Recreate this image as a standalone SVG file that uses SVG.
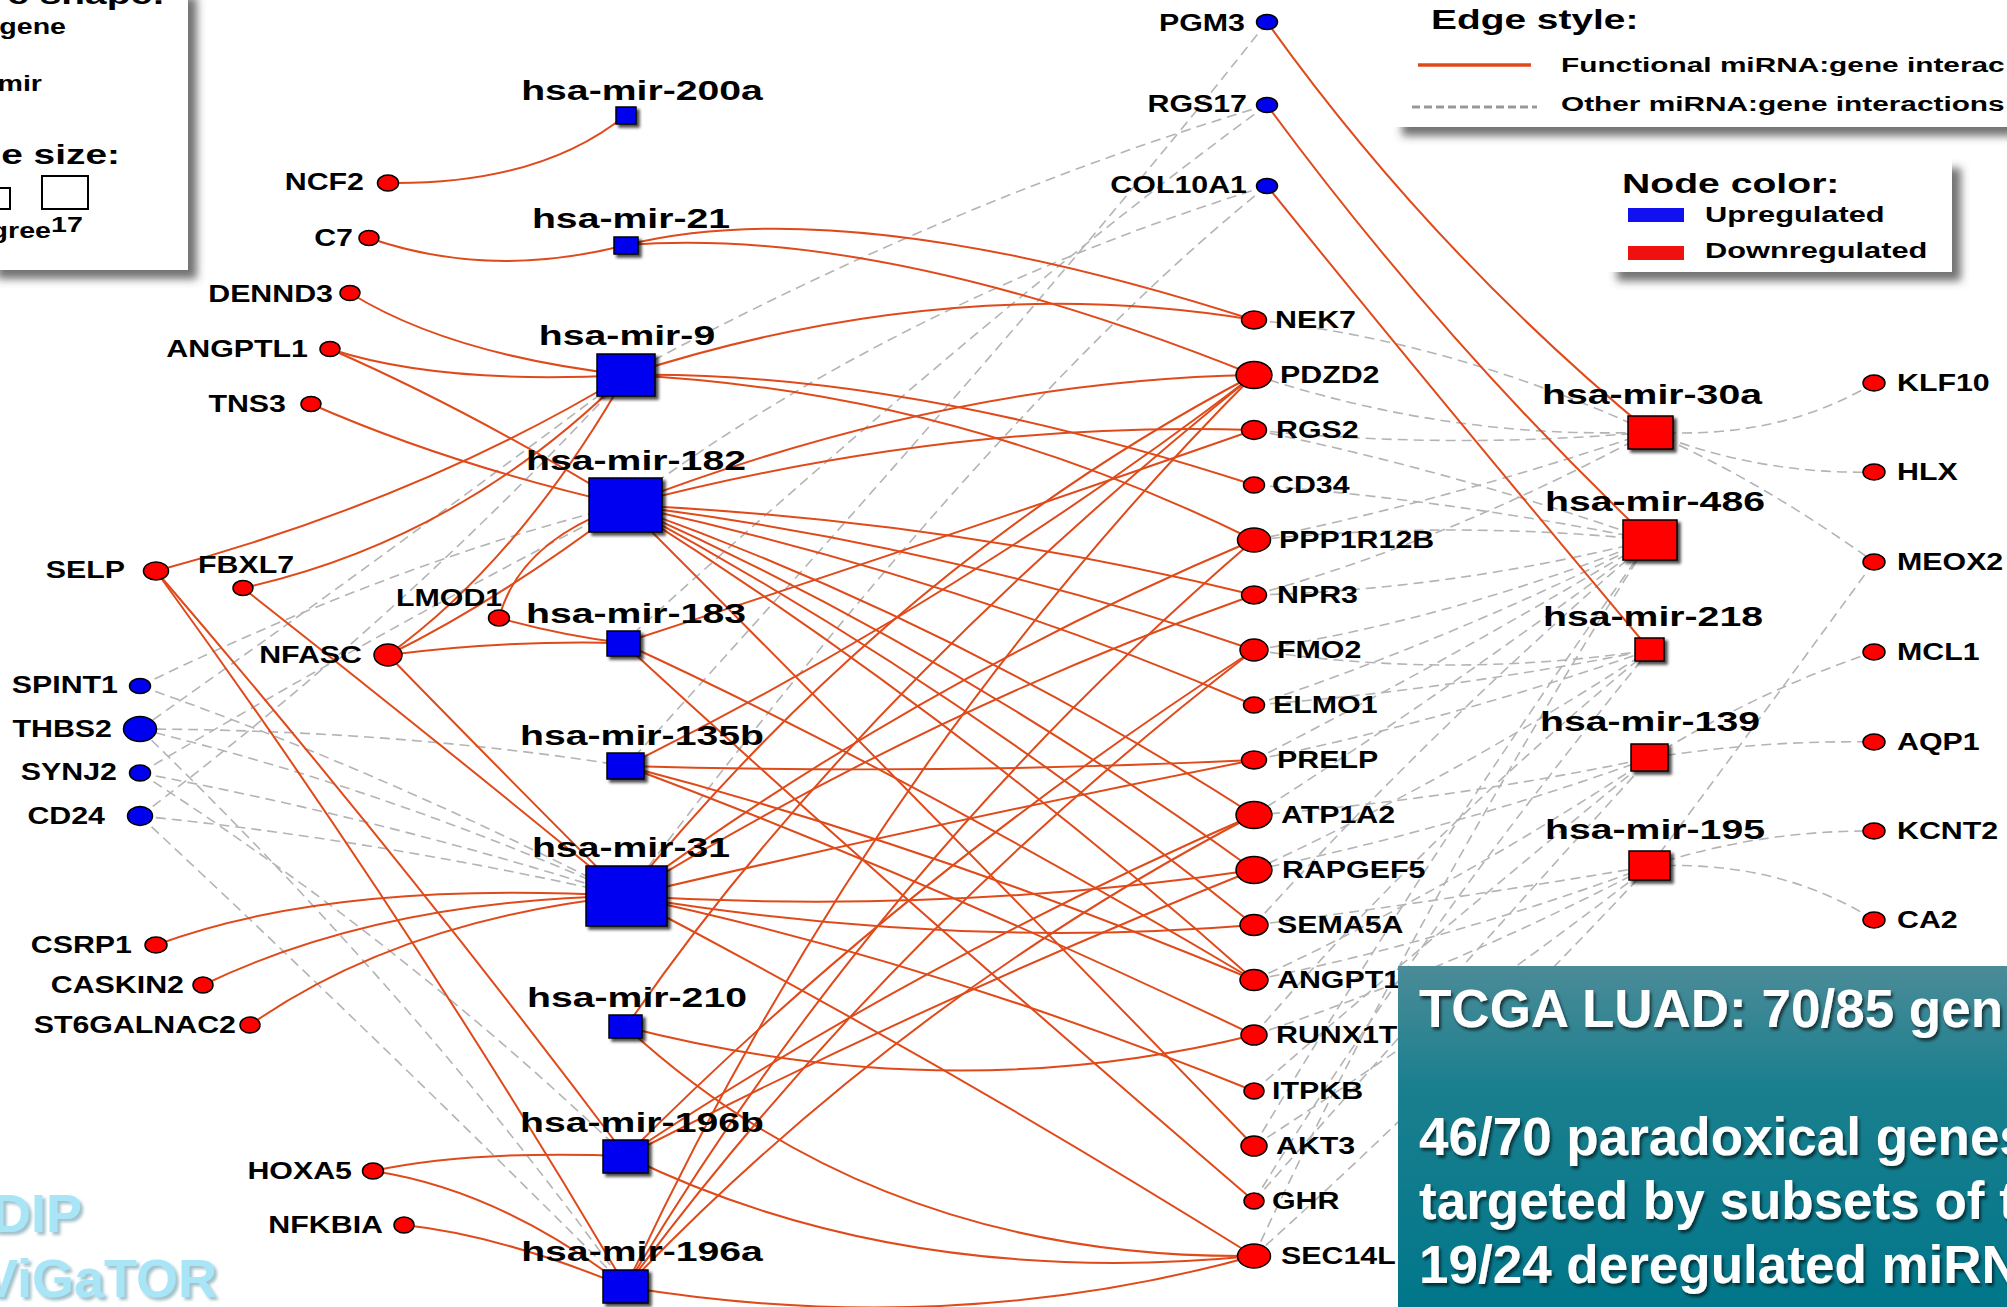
<svg xmlns="http://www.w3.org/2000/svg" width="2007" height="1307" viewBox="0 0 2007 1307">
<defs>
<style>
text{font-family:"Liberation Sans",Arial,sans-serif;font-weight:bold;fill:#000}
.f{fill:none;stroke:#e04a1a;stroke-width:2}
.o{fill:none;stroke:#b4b4b4;stroke-width:1.6;stroke-dasharray:10 6}
.dn{fill:#f00;stroke:#000;stroke-width:1.5}
.up{fill:#0000f0;stroke:#000;stroke-width:1.5}
.sq{filter:url(#sh)}
.gl{font-size:23px}
.ml{font-size:28px;text-anchor:middle}
.e{text-anchor:end}
.lg{font-size:27px}
.ls{font-size:21px}
.lc{font-size:22px}
.tt{font-size:53px;fill:#fff;filter:url(#ts)}
.brand{font-size:54px;fill:#a8e6f7;filter:url(#bsh)}
.box{fill:#fff;filter:url(#bx)}
</style>
<filter id="sh" x="-30%" y="-30%" width="170%" height="170%"><feDropShadow dx="3" dy="3" stdDeviation="1.5" flood-color="#000" flood-opacity="0.7"/></filter>
<filter id="bx" x="-10%" y="-20%" width="130%" height="150%"><feDropShadow dx="9" dy="9" stdDeviation="4" flood-color="#444" flood-opacity="0.75"/></filter>
<filter id="ts" x="-5%" y="-30%" width="110%" height="160%"><feDropShadow dx="2" dy="3" stdDeviation="1.5" flood-color="#000" flood-opacity="0.6"/></filter>
<filter id="bsh" x="-10%" y="-20%" width="130%" height="150%"><feDropShadow dx="3" dy="3" stdDeviation="1.5" flood-color="#7aa6b4" flood-opacity="0.7"/></filter>
<linearGradient id="tg" x1="0" y1="0" x2="0" y2="1">
<stop offset="0" stop-color="#4b8b98"/>
<stop offset="0.35" stop-color="#1a7f8e"/>
<stop offset="1" stop-color="#00768a"/>
</linearGradient>
</defs>
<rect x="0" y="0" width="2007" height="1307" fill="#fff"/>

<!-- connectors -->
<g id="edges">
<!-- other miRNA:gene interactions -->
<path class="o" d="M140,686 Q380,770 626,896"/>
<path class="o" d="M140,686 Q400,560 625,505"/>
<path class="o" d="M140,729 Q400,730 626,766"/>
<path class="o" d="M140,729 Q390,790 626,896"/>
<path class="o" d="M140,729 Q380,560 626,375"/>
<path class="o" d="M140,729 Q420,1000 626,1287"/>
<path class="o" d="M140,773 Q390,820 626,896"/>
<path class="o" d="M140,773 Q400,620 625,505"/>
<path class="o" d="M140,773 Q400,940 626,1156"/>
<path class="o" d="M140,816 Q380,840 626,896"/>
<path class="o" d="M140,816 Q380,1040 626,1287"/>
<path class="o" d="M140,816 Q400,620 626,375"/>
<path class="o" d="M1267,105 Q950,200 626,375"/>
<path class="o" d="M1267,186 Q900,300 625,505"/>
<path class="o" d="M1267,22 Q1050,300 626,766"/>
<path class="o" d="M1267,186 Q1000,400 626,896"/>
<path class="o" d="M1267,105 Q1000,300 623,643"/>
<path class="o" d="M1254,320 Q1450,340 1650,432"/>
<path class="o" d="M1254,375 Q1450,440 1650,432"/>
<path class="o" d="M1254,430 Q1450,450 1650,432"/>
<path class="o" d="M1254,430 Q1450,470 1650,540"/>
<path class="o" d="M1254,485 Q1450,500 1650,540"/>
<path class="o" d="M1254,540 Q1450,520 1650,540"/>
<path class="o" d="M1254,540 Q1450,500 1650,432"/>
<path class="o" d="M1254,595 Q1450,590 1650,540"/>
<path class="o" d="M1254,595 Q1450,540 1650,432"/>
<path class="o" d="M1254,650 Q1450,620 1650,540"/>
<path class="o" d="M1254,650 Q1450,680 1650,650"/>
<path class="o" d="M1254,705 Q1450,690 1650,650"/>
<path class="o" d="M1254,705 Q1450,640 1650,540"/>
<path class="o" d="M1254,760 Q1450,660 1650,540"/>
<path class="o" d="M1254,760 Q1450,720 1650,650"/>
<path class="o" d="M1254,815 Q1450,800 1650,758"/>
<path class="o" d="M1254,815 Q1450,690 1650,540"/>
<path class="o" d="M1254,870 Q1450,780 1650,650"/>
<path class="o" d="M1254,870 Q1450,830 1650,758"/>
<path class="o" d="M1254,925 Q1450,900 1650,866"/>
<path class="o" d="M1254,925 Q1440,720 1650,540"/>
<path class="o" d="M1254,980 Q1450,890 1650,758"/>
<path class="o" d="M1254,980 Q1450,940 1650,866"/>
<path class="o" d="M1254,1035 Q1430,830 1650,650"/>
<path class="o" d="M1254,1035 Q1450,970 1650,866"/>
<path class="o" d="M1254,1091 Q1440,930 1650,758"/>
<path class="o" d="M1254,1146 Q1450,1020 1650,866"/>
<path class="o" d="M1254,1146 Q1430,850 1650,540"/>
<path class="o" d="M1254,1201 Q1440,990 1650,758"/>
<path class="o" d="M1254,1201 Q1420,930 1650,650"/>
<path class="o" d="M1254,1256 Q1450,1080 1650,866"/>
<path class="o" d="M1254,1256 Q1420,900 1650,540"/>
<path class="o" d="M1650,432 Q1780,440 1874,383"/>
<path class="o" d="M1650,432 Q1760,475 1874,472"/>
<path class="o" d="M1650,432 Q1760,480 1874,562"/>
<path class="o" d="M1650,866 Q1730,760 1874,562"/>
<path class="o" d="M1650,758 Q1760,690 1874,652"/>
<path class="o" d="M1650,758 Q1760,740 1874,742"/>
<path class="o" d="M1650,866 Q1760,830 1874,831"/>
<path class="o" d="M1650,866 Q1780,860 1874,920"/>
<!-- functional miRNA:gene interactions -->
<path class="f" d="M388,183 Q540,185 626,115"/>
<path class="f" d="M369,238 Q490,280 626,245"/>
<path class="f" d="M626,245 Q850,190 1254,320"/>
<path class="f" d="M626,245 Q880,225 1254,375"/>
<path class="f" d="M350,293 Q450,355 626,375"/>
<path class="f" d="M330,349 Q440,385 626,375"/>
<path class="f" d="M330,349 Q470,410 625,505"/>
<path class="f" d="M311,404 Q450,465 625,505"/>
<path class="f" d="M156,571 Q420,500 626,375"/>
<path class="f" d="M243,588 Q460,540 626,375"/>
<path class="f" d="M388,655 Q520,560 626,375"/>
<path class="f" d="M388,655 Q500,600 625,505"/>
<path class="f" d="M499,618 Q520,540 625,505"/>
<path class="f" d="M499,618 Q560,635 623,643"/>
<path class="f" d="M388,655 Q500,640 623,643"/>
<path class="f" d="M388,655 Q500,770 626,896"/>
<path class="f" d="M243,588 Q430,735 626,896"/>
<path class="f" d="M156,571 Q410,920 626,1287"/>
<path class="f" d="M156,571 Q400,855 626,1156"/>
<path class="f" d="M156,945 Q330,880 626,896"/>
<path class="f" d="M203,985 Q380,900 626,896"/>
<path class="f" d="M250,1025 Q400,920 626,896"/>
<path class="f" d="M373,1171 Q470,1150 626,1156"/>
<path class="f" d="M373,1171 Q500,1190 626,1287"/>
<path class="f" d="M404,1225 Q500,1235 626,1287"/>
<path class="f" d="M626,375 Q950,270 1254,320"/>
<path class="f" d="M626,375 Q900,370 1254,485"/>
<path class="f" d="M626,375 Q950,390 1254,540"/>
<path class="f" d="M625,505 Q950,380 1254,375"/>
<path class="f" d="M625,505 Q950,420 1254,430"/>
<path class="f" d="M625,505 Q950,520 1254,595"/>
<path class="f" d="M625,505 Q950,545 1254,650"/>
<path class="f" d="M625,505 Q950,575 1254,705"/>
<path class="f" d="M625,505 Q950,620 1254,815"/>
<path class="f" d="M625,505 Q950,650 1254,870"/>
<path class="f" d="M625,505 Q950,680 1254,925"/>
<path class="f" d="M625,505 Q950,710 1254,980"/>
<path class="f" d="M625,505 Q900,780 1254,1146"/>
<path class="f" d="M623,643 Q940,540 1254,430"/>
<path class="f" d="M623,643 Q900,770 1254,980"/>
<path class="f" d="M623,643 Q880,880 1254,1201"/>
<path class="f" d="M626,766 Q940,775 1254,760"/>
<path class="f" d="M626,766 Q960,600 1254,375"/>
<path class="f" d="M626,766 Q930,845 1254,980"/>
<path class="f" d="M626,766 Q930,880 1254,1035"/>
<path class="f" d="M626,896 Q950,820 1254,760"/>
<path class="f" d="M626,896 Q950,915 1254,870"/>
<path class="f" d="M626,896 Q950,950 1254,925"/>
<path class="f" d="M626,896 Q900,560 1254,375"/>
<path class="f" d="M626,896 Q920,680 1254,540"/>
<path class="f" d="M626,896 Q930,710 1254,595"/>
<path class="f" d="M626,896 Q930,960 1254,1091"/>
<path class="f" d="M626,896 Q940,1060 1254,1256"/>
<path class="f" d="M626,1027 Q950,1110 1254,1035"/>
<path class="f" d="M626,1027 Q880,1260 1254,1256"/>
<path class="f" d="M626,1027 Q850,700 1254,375"/>
<path class="f" d="M626,1156 Q900,1290 1254,1256"/>
<path class="f" d="M626,1156 Q900,880 1254,650"/>
<path class="f" d="M626,1156 Q920,960 1254,815"/>
<path class="f" d="M626,1156 Q930,1000 1254,870"/>
<path class="f" d="M626,1287 Q950,1340 1254,1256"/>
<path class="f" d="M626,1287 Q870,760 1254,375"/>
<path class="f" d="M626,1287 Q880,860 1254,540"/>
<path class="f" d="M626,1287 Q890,930 1254,650"/>
<path class="f" d="M626,1287 Q900,1000 1254,815"/>
<path class="f" d="M1267,22 Q1430,250 1650,432"/>
<path class="f" d="M1267,105 Q1440,340 1650,540"/>
<path class="f" d="M1267,186 Q1440,400 1650,650"/>
</g>

<!-- left-hand genes -->
<g id="n-NCF2"><ellipse class="dn" cx="388" cy="183" rx="10.5" ry="8"/><text class="gl e" transform="translate(364,190) scale(1.32,1)">NCF2</text></g>
<g id="n-C7"><ellipse class="dn" cx="369" cy="238" rx="10" ry="7.5"/><text class="gl e" transform="translate(353,246) scale(1.32,1)">C7</text></g>
<g id="n-DENND3"><ellipse class="dn" cx="350" cy="293" rx="10" ry="7.5"/><text class="gl e" transform="translate(333,302) scale(1.32,1)">DENND3</text></g>
<g id="n-ANGPTL1"><ellipse class="dn" cx="330" cy="349" rx="10" ry="7.5"/><text class="gl e" transform="translate(308,357) scale(1.32,1)">ANGPTL1</text></g>
<g id="n-TNS3"><ellipse class="dn" cx="311" cy="404" rx="10" ry="7.5"/><text class="gl e" transform="translate(286,412) scale(1.32,1)">TNS3</text></g>
<g id="n-SELP"><ellipse class="dn" cx="156" cy="571" rx="12.5" ry="9"/><text class="gl e" transform="translate(125,578) scale(1.32,1)">SELP</text></g>
<g id="n-FBXL7"><ellipse class="dn" cx="243" cy="588" rx="10" ry="7.5"/><text class="gl" transform="translate(198,573) scale(1.32,1)">FBXL7</text></g>
<g id="n-LMOD1"><ellipse class="dn" cx="499" cy="618" rx="10.5" ry="8"/><text class="gl" transform="translate(396,606) scale(1.32,1)">LMOD1</text></g>
<g id="n-NFASC"><ellipse class="dn" cx="388" cy="655" rx="14" ry="11"/><text class="gl e" transform="translate(362,663) scale(1.32,1)">NFASC</text></g>
<g id="n-SPINT1"><ellipse class="up" cx="140" cy="686" rx="10.5" ry="7.5"/><text class="gl e" transform="translate(118,693) scale(1.32,1)">SPINT1</text></g>
<g id="n-THBS2"><ellipse class="up" cx="140" cy="729" rx="16.5" ry="12.5"/><text class="gl e" transform="translate(112,737) scale(1.32,1)">THBS2</text></g>
<g id="n-SYNJ2"><ellipse class="up" cx="140" cy="773" rx="10.5" ry="8"/><text class="gl e" transform="translate(117,780) scale(1.32,1)">SYNJ2</text></g>
<g id="n-CD24"><ellipse class="up" cx="140" cy="816" rx="12.5" ry="9.5"/><text class="gl e" transform="translate(105,824) scale(1.32,1)">CD24</text></g>
<g id="n-CSRP1"><ellipse class="dn" cx="156" cy="945" rx="11" ry="8"/><text class="gl e" transform="translate(132,953) scale(1.32,1)">CSRP1</text></g>
<g id="n-CASKIN2"><ellipse class="dn" cx="203" cy="985" rx="10" ry="8"/><text class="gl e" transform="translate(184,993) scale(1.32,1)">CASKIN2</text></g>
<g id="n-ST6GALNAC2"><ellipse class="dn" cx="250" cy="1025" rx="10" ry="8"/><text class="gl e" transform="translate(236,1033) scale(1.32,1)">ST6GALNAC2</text></g>
<g id="n-HOXA5"><ellipse class="dn" cx="373" cy="1171" rx="10.5" ry="8"/><text class="gl e" transform="translate(352,1179) scale(1.32,1)">HOXA5</text></g>
<g id="n-NFKBIA"><ellipse class="dn" cx="404" cy="1225" rx="10" ry="8"/><text class="gl e" transform="translate(383,1233) scale(1.32,1)">NFKBIA</text></g>

<!-- left-hand miRNAs -->
<g id="m-200a"><rect class="up sq" x="616" y="107" width="20" height="17"/><text class="ml" transform="translate(642,100) scale(1.4,1)">hsa-mir-200a</text></g>
<g id="m-21"><rect class="up sq" x="614" y="237" width="24" height="17"/><text class="ml" transform="translate(631,228) scale(1.4,1)">hsa-mir-21</text></g>
<g id="m-9"><rect class="up sq" x="597" y="354" width="58" height="42"/><text class="ml" transform="translate(627,345) scale(1.4,1)">hsa-mir-9</text></g>
<g id="m-182"><rect class="up sq" x="589" y="478" width="73" height="54"/><text class="ml" transform="translate(636,470) scale(1.4,1)">hsa-mir-182</text></g>
<g id="m-183"><rect class="up sq" x="607" y="631" width="33" height="25"/><text class="ml" transform="translate(636,623) scale(1.4,1)">hsa-mir-183</text></g>
<g id="m-135b"><rect class="up sq" x="607" y="753" width="37" height="26"/><text class="ml" transform="translate(642,745) scale(1.4,1)">hsa-mir-135b</text></g>
<g id="m-31"><rect class="up sq" x="586" y="866" width="81" height="60"/><text class="ml" transform="translate(631,857) scale(1.4,1)">hsa-mir-31</text></g>
<g id="m-210"><rect class="up sq" x="609" y="1015" width="33" height="23"/><text class="ml" transform="translate(637,1007) scale(1.4,1)">hsa-mir-210</text></g>
<g id="m-196b"><rect class="up sq" x="603" y="1140" width="45" height="33"/><text class="ml" transform="translate(642,1132) scale(1.4,1)">hsa-mir-196b</text></g>
<g id="m-196a"><rect class="up sq" x="603" y="1270" width="45" height="33"/><text class="ml" transform="translate(642,1261) scale(1.4,1)">hsa-mir-196a</text></g>

<!-- upper genes -->
<g id="n-PGM3"><ellipse class="up" cx="1267" cy="22" rx="10.5" ry="7.5"/><text class="gl e" transform="translate(1245,31) scale(1.32,1)">PGM3</text></g>
<g id="n-RGS17"><ellipse class="up" cx="1267" cy="105" rx="10.5" ry="7.5"/><text class="gl e" transform="translate(1247,112) scale(1.32,1)">RGS17</text></g>
<g id="n-COL10A1"><ellipse class="up" cx="1267" cy="186" rx="10.5" ry="7.5"/><text class="gl e" transform="translate(1247,193) scale(1.32,1)">COL10A1</text></g>

<!-- central gene column -->
<g id="n-NEK7"><ellipse class="dn" cx="1254" cy="320" rx="12.5" ry="9"/><text class="gl" transform="translate(1275,328) scale(1.32,1)">NEK7</text></g>
<g id="n-PDZD2"><ellipse class="dn" cx="1254" cy="375" rx="18" ry="13.5"/><text class="gl" transform="translate(1280,383) scale(1.32,1)">PDZD2</text></g>
<g id="n-RGS2"><ellipse class="dn" cx="1254" cy="430" rx="12.5" ry="9.5"/><text class="gl" transform="translate(1276,438) scale(1.32,1)">RGS2</text></g>
<g id="n-CD34"><ellipse class="dn" cx="1254" cy="485" rx="10.5" ry="8"/><text class="gl" transform="translate(1272,493) scale(1.32,1)">CD34</text></g>
<g id="n-PPP1R12B"><ellipse class="dn" cx="1254" cy="540" rx="16.5" ry="12"/><text class="gl" transform="translate(1279,548) scale(1.32,1)">PPP1R12B</text></g>
<g id="n-NPR3"><ellipse class="dn" cx="1254" cy="595" rx="12.5" ry="9"/><text class="gl" transform="translate(1277,603) scale(1.32,1)">NPR3</text></g>
<g id="n-FMO2"><ellipse class="dn" cx="1254" cy="650" rx="14" ry="11"/><text class="gl" transform="translate(1277,658) scale(1.32,1)">FMO2</text></g>
<g id="n-ELMO1"><ellipse class="dn" cx="1254" cy="705" rx="10.5" ry="8"/><text class="gl" transform="translate(1273,713) scale(1.32,1)">ELMO1</text></g>
<g id="n-PRELP"><ellipse class="dn" cx="1254" cy="760" rx="12.5" ry="9"/><text class="gl" transform="translate(1277,768) scale(1.32,1)">PRELP</text></g>
<g id="n-ATP1A2"><ellipse class="dn" cx="1254" cy="815" rx="18" ry="13.5"/><text class="gl" transform="translate(1281,823) scale(1.32,1)">ATP1A2</text></g>
<g id="n-RAPGEF5"><ellipse class="dn" cx="1254" cy="870" rx="18" ry="13.5"/><text class="gl" transform="translate(1282,878) scale(1.32,1)">RAPGEF5</text></g>
<g id="n-SEMA5A"><ellipse class="dn" cx="1254" cy="925" rx="14" ry="10.5"/><text class="gl" transform="translate(1277,933) scale(1.32,1)">SEMA5A</text></g>
<g id="n-ANGPT1"><ellipse class="dn" cx="1254" cy="980" rx="14" ry="10.5"/><text class="gl" transform="translate(1277,988) scale(1.32,1)">ANGPT1</text></g>
<g id="n-RUNX1T"><ellipse class="dn" cx="1254" cy="1035" rx="13" ry="10"/><text class="gl" transform="translate(1276,1043) scale(1.32,1)">RUNX1T</text></g>
<g id="n-ITPKB"><ellipse class="dn" cx="1254" cy="1091" rx="10" ry="8"/><text class="gl" transform="translate(1272,1099) scale(1.32,1)">ITPKB</text></g>
<g id="n-AKT3"><ellipse class="dn" cx="1254" cy="1146" rx="13" ry="10"/><text class="gl" transform="translate(1276,1154) scale(1.32,1)">AKT3</text></g>
<g id="n-GHR"><ellipse class="dn" cx="1254" cy="1201" rx="10" ry="8"/><text class="gl" transform="translate(1272,1209) scale(1.32,1)">GHR</text></g>
<g id="n-SEC14L"><ellipse class="dn" cx="1254" cy="1256" rx="16.5" ry="12"/><text class="gl" transform="translate(1281,1264) scale(1.32,1)">SEC14L</text></g>

<!-- right-hand miRNAs -->
<g id="m-30a"><rect class="dn sq" x="1628" y="416" width="45" height="33"/><text class="ml" transform="translate(1652,404) scale(1.4,1)">hsa-mir-30a</text></g>
<g id="m-486"><rect class="dn sq" x="1623" y="520" width="54" height="40"/><text class="ml" transform="translate(1655,511) scale(1.4,1)">hsa-mir-486</text></g>
<g id="m-218"><rect class="dn sq" x="1635" y="638" width="29" height="23"/><text class="ml" transform="translate(1653,626) scale(1.4,1)">hsa-mir-218</text></g>
<g id="m-139"><rect class="dn sq" x="1631" y="744" width="37" height="27"/><text class="ml" transform="translate(1650,731) scale(1.4,1)">hsa-mir-139</text></g>
<g id="m-195"><rect class="dn sq" x="1629" y="851" width="41" height="29"/><text class="ml" transform="translate(1655,839) scale(1.4,1)">hsa-mir-195</text></g>

<!-- far right genes -->
<g id="n-KLF10"><ellipse class="dn" cx="1874" cy="383" rx="11" ry="8"/><text class="gl" transform="translate(1897,391) scale(1.32,1)">KLF10</text></g>
<g id="n-HLX"><ellipse class="dn" cx="1874" cy="472" rx="11" ry="8"/><text class="gl" transform="translate(1897,480) scale(1.32,1)">HLX</text></g>
<g id="n-MEOX2"><ellipse class="dn" cx="1874" cy="562" rx="11" ry="8"/><text class="gl" transform="translate(1897,570) scale(1.32,1)">MEOX2</text></g>
<g id="n-MCL1"><ellipse class="dn" cx="1874" cy="652" rx="11" ry="8"/><text class="gl" transform="translate(1897,660) scale(1.32,1)">MCL1</text></g>
<g id="n-AQP1"><ellipse class="dn" cx="1874" cy="742" rx="11" ry="8"/><text class="gl" transform="translate(1897,750) scale(1.32,1)">AQP1</text></g>
<g id="n-KCNT2"><ellipse class="dn" cx="1874" cy="831" rx="11" ry="8"/><text class="gl" transform="translate(1897,839) scale(1.32,1)">KCNT2</text></g>
<g id="n-CA2"><ellipse class="dn" cx="1874" cy="920" rx="11" ry="8"/><text class="gl" transform="translate(1897,928) scale(1.32,1)">CA2</text></g>

<!-- legend: node shape / size -->
<g id="legend-shape">
<rect class="box" x="-12" y="-12" width="200" height="282"/>
<text class="lg e" transform="translate(165,4) scale(1.44,1)">e shape:</text>
<text class="lc e" transform="translate(66,34) scale(1.3,1)">gene</text>
<text class="lc e" transform="translate(42,91) scale(1.3,1)">mir</text>
<text class="lg e" transform="translate(120,164) scale(1.44,1)">e size:</text>
<rect x="-12" y="188" width="22" height="21" fill="#fff" stroke="#000" stroke-width="2"/>
<rect x="42" y="176" width="46" height="33" fill="#fff" stroke="#000" stroke-width="2"/>
<text class="lc e" transform="translate(51,238) scale(1.3,1)">gree</text>
<text class="lc" transform="translate(51,232) scale(1.3,1)">17</text>
</g>

<!-- legend: edge style -->
<g id="legend-edge">
<rect class="box" x="1393" y="-12" width="640" height="139"/>
<text class="lg" transform="translate(1431,29) scale(1.44,1)">Edge style:</text>
<line x1="1418" y1="65" x2="1531" y2="65" stroke="#e04a1a" stroke-width="3.5"/>
<text class="ls" transform="translate(1561,72) scale(1.42,1)">Functional miRNA:gene interac</text>
<line x1="1412" y1="107" x2="1537" y2="107" stroke="#999" stroke-width="3" stroke-dasharray="8 4"/>
<text class="ls" transform="translate(1561,111) scale(1.42,1)">Other miRNA:gene interactions</text>
</g>

<!-- legend: node color -->
<g id="legend-color">
<rect class="box" x="1608" y="159" width="344" height="113"/>
<text class="lg" transform="translate(1622,193) scale(1.45,1)">Node color:</text>
<rect x="1628" y="208" width="56" height="14" fill="#1010f0"/>
<text class="lc" transform="translate(1705,222) scale(1.4,1)">Upregulated</text>
<rect x="1628" y="246" width="56" height="14" fill="#f01010"/>
<text class="lc" transform="translate(1705,258) scale(1.4,1)">Downregulated</text>
</g>

<!-- brand marks -->
<text class="brand e" x="82" y="1232">DIP</text>
<text class="brand e" x="217" y="1297">ViGaTOR</text>

<!-- summary panel -->
<g id="summary">
<rect x="1398" y="966" width="620" height="350" fill="url(#tg)"/>
<text class="tt" x="1419" y="1027">TCGA LUAD: 70/85 gen</text>
<text class="tt" x="1419" y="1155">46/70 paradoxical genes</text>
<text class="tt" x="1419" y="1219">targeted by subsets of t</text>
<text class="tt" x="1419" y="1283">19/24 deregulated miRN</text>
</g>
</svg>
